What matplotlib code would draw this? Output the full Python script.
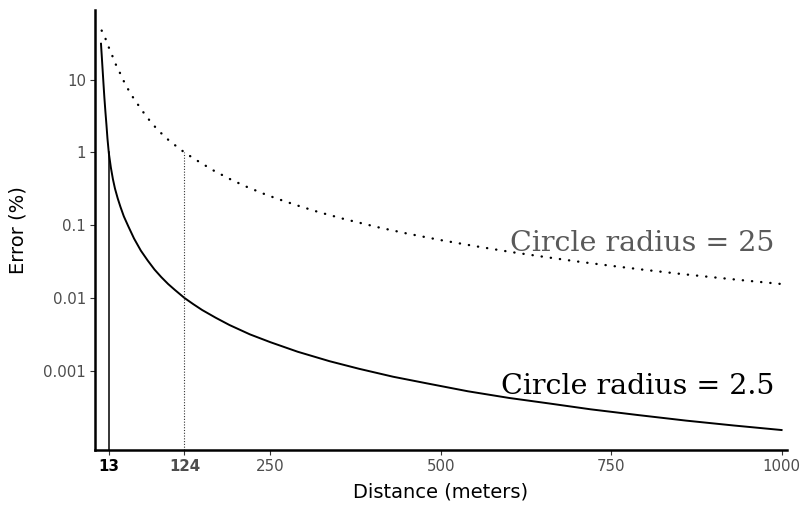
import matplotlib
matplotlib.use("Agg")
import matplotlib.pyplot as plt

# error curves read for the two circle radii
dist_small = [1.5, 2, 2.5, 3, 3.5, 4.5, 5.5, 6.5, 8, 9.5, 11, 13, 16, 19, 22,
              26, 30, 35, 41.6, 50, 60, 70, 80, 90, 100, 110, 124, 137, 150,
              170, 190, 220, 250, 290, 337, 380, 430, 480, 540, 600, 660, 720,
              790, 860, 930, 1000]
err_small = [31, 26, 22, 18.5, 15.5, 11, 7.8, 5.6, 3.6, 2.4, 1.55, 0.98, 0.62,
             0.43, 0.32, 0.235, 0.18, 0.133, 0.097, 0.066, 0.045, 0.033,
             0.0248, 0.0195, 0.0157, 0.013, 0.0101, 0.0083, 0.0069, 0.0054,
             0.0043, 0.0032, 0.0025, 0.00185, 0.00137, 0.00108, 0.00084,
             0.00068, 0.00053, 0.00043, 0.00036, 0.0003, 0.00025, 0.00021,
             0.00018, 0.000156]

dist_large = [2.5, 5, 7.8, 12, 17.6, 22, 27.9, 33, 39.1, 45, 52.4, 60, 67, 75,
              83.7, 93, 102.7, 113, 124, 140, 166, 190, 213, 240, 260, 290, 320,
              358.6, 408.5, 450, 500, 550, 601.8, 650, 700, 750, 800, 850, 900,
              950, 1000]
err_large = [47, 42, 37, 29, 21.8, 17, 13.2, 10.3, 8.0, 6.4, 5.0, 4.0, 3.2, 2.6,
             2.09, 1.72, 1.42, 1.2, 1.0, 0.8, 0.57, 0.435, 0.345, 0.272, 0.232,
             0.187, 0.153, 0.122, 0.094, 0.0775, 0.0628, 0.052, 0.0433, 0.0372,
             0.032, 0.0279, 0.0245, 0.0217, 0.0194, 0.0174, 0.0157]

# distance at which each curve reaches 1 % error
cut_small = 13
cut_large = 124

x_ticks = [13, 124, 250, 500, 750, 1000]
y_ticks = [10, 1, 0.1, 0.01, 0.001]
y_labels = ["10", "1", "0.1", "0.01", "0.001"]

fig = plt.figure(figsize=(8.03, 5.07), dpi=100)
ax = fig.add_axes([0.1183, 0.1124, 0.8618, 0.8679])

ax.plot(dist_small, err_small, color="black", lw=1.4)
ax.plot(dist_large, err_large, color="black", lw=1.7,
        linestyle=(0, (0.1, 3.8)), dash_capstyle="round")

ymin = 8.3e-5
ax.plot([cut_small, cut_small], [ymin, 1], color="black", lw=1.1)
ax.plot([cut_large, cut_large], [ymin, 1], color="#333333", lw=0.8,
        linestyle=(0, (1, 1.5)))

ax.set_yscale("log")
ax.set_xlim(-7.3, 1008)
ax.set_ylim(ymin, 90)
ax.set_yticks(y_ticks)
ax.set_yticklabels(y_labels)
ax.minorticks_off()
ax.set_xticks(x_ticks)
ax.set_xticklabels([str(t) for t in x_ticks])

for spine in ["top", "right"]:
    ax.spines[spine].set_visible(False)
for spine in ["left", "bottom"]:
    ax.spines[spine].set_linewidth(1.8)
    ax.spines[spine].set_color("black")

ax.tick_params(axis="both", length=3.5, width=0.8, color="#333333",
               labelcolor="#4d4d4d", labelsize=10.8, pad=3)
xl = ax.get_xticklabels()
xl[0].set_fontweight("bold")
xl[0].set_color("black")
xl[1].set_fontweight("bold")

ax.set_xlabel("Distance (meters)", fontsize=14, labelpad=6)
ax.set_ylabel("Error (%)", fontsize=14, labelpad=11)

ax.text(990, 0.044, "Circle radius = 25", family="DejaVu Serif", fontsize=20.5,
        color="#595959", ha="right", va="baseline")
ax.text(990, 0.00048, "Circle radius = 2.5", family="DejaVu Serif", fontsize=20.5,
        color="black", ha="right", va="baseline")

fig.savefig("out.png", dpi=100)
